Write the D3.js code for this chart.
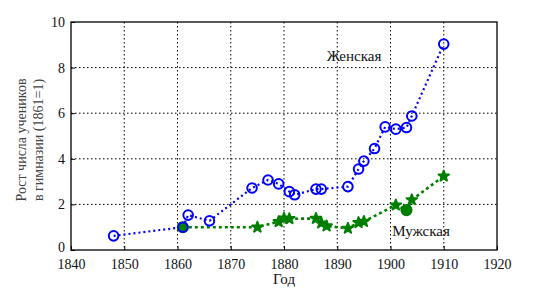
<!DOCTYPE html>
<html><head><meta charset="utf-8">
<script src="https://cdn.jsdelivr.net/npm/d3@7"></script>
<style>body{margin:0;background:#fff}svg{display:block}</style>
</head><body><svg id="c" width="549" height="293"></svg>
<script>
const femaleYears = [1848,1861,1862,1866,1874,1877,1879,1881,1882,1886,1887,1892,1894,1895,1897,1899,1901,1903,1904,1910];
const femaleValues = [0.62,1.0,1.53,1.28,2.72,3.07,2.9,2.56,2.42,2.67,2.67,2.78,3.55,3.9,4.45,5.4,5.3,5.37,5.88,9.03];
const maleYears = [1861,1875,1879,1880,1881,1886,1887,1888,1892,1894,1895,1901,1903,1904,1910];
const maleValues = [1.0,1.0,1.24,1.39,1.37,1.38,1.18,1.05,0.95,1.2,1.25,1.97,1.75,2.2,3.24];
const maleShapes = ["circle","star","star","star","star","star","star","star","star","star","star","star","circle","star","star"];
const xTicks = [1840,1850,1860,1870,1880,1890,1900,1910,1920];
const yTicks = [0,2,4,6,8,10];
const labels = {female:"Женская", male:"Мужская", x:"Год", y1:"Рост числа учеников", y2:"в гимназии (1861=1)"};

const svg = d3.select("#c");
const L=71, R=497, T=22, B=250;
const x = d3.scaleLinear().domain([1840,1920]).range([L,R]);
const y = d3.scaleLinear().domain([0,10]).range([B,T]);
const FONT = "Liberation Serif";

// grid
const g = svg.append("g");
g.selectAll("line.vx").data(xTicks.filter(t=>t>1840&&t<1920)).join("line")
  .attr("x1",d=>x(d)).attr("x2",d=>x(d)).attr("y1",T).attr("y2",B)
  .attr("stroke","#000").attr("stroke-width",1).attr("stroke-dasharray","1.5,2.5");
g.selectAll("line.hy").data(yTicks.filter(t=>t>0&&t<10)).join("line")
  .attr("y1",d=>y(d)).attr("y2",d=>y(d)).attr("x1",L).attr("x2",R)
  .attr("stroke","#000").attr("stroke-width",1).attr("stroke-dasharray","1.5,2.5");

// axes
const xa = svg.append("g").attr("transform",`translate(0,${B})`)
  .call(d3.axisBottom(x).tickValues(xTicks).tickFormat(d3.format("d")).tickSizeInner(-4).tickSizeOuter(0).tickPadding(9));
const ya = svg.append("g").attr("transform",`translate(${L},0)`)
  .call(d3.axisLeft(y).tickValues(yTicks).tickSizeInner(-4).tickSizeOuter(0).tickPadding(6));
[xa,ya].forEach(a=>{a.attr("font-family",FONT).attr("font-size",14);a.select(".domain").remove();a.selectAll("text").attr("fill","#111");a.selectAll(".tick line").attr("stroke","#000");});
ya.selectAll(".tick text").attr("dy",(d)=>d===0?"0.1em":"0.32em");
xa.selectAll(".tick text").attr("dy","0.71em");
svg.append("rect").attr("x",L).attr("y",T).attr("width",R-L).attr("height",B-T)
  .attr("fill","none").attr("stroke","#000").attr("stroke-width",1.3);

// lines
const lineF = d3.line().x((d,i)=>x(femaleYears[i])).y(d=>y(d));
const lineM = d3.line().x((d,i)=>x(maleYears[i])).y(d=>y(d));
svg.append("path").attr("d",lineM(maleValues)).attr("fill","none").attr("stroke","#007f00")
  .attr("stroke-width",2.6).attr("stroke-dasharray","3,3");
svg.append("path").attr("d",lineF(femaleValues)).attr("fill","none").attr("stroke","#0000ff")
  .attr("stroke-width",2.2).attr("stroke-dasharray","2,3");

// markers male
svg.selectAll("path.m").data(maleValues).join("path")
  .attr("transform",(d,i)=>`translate(${x(maleYears[i])},${y(d)})`)
  .attr("d",(d,i)=>maleShapes[i]==="circle"? d3.symbol(d3.symbolCircle,80)() : d3.symbol(d3.symbolStar,34)())
  .attr("fill","#007f00").attr("stroke","#007f00").attr("stroke-width",2).attr("stroke-linejoin","round");
// markers female
svg.selectAll("circle.f").data(femaleValues).join("circle")
  .attr("cx",(d,i)=>x(femaleYears[i])).attr("cy",d=>y(d)).attr("r",4.8)
  .attr("fill","none").attr("stroke","#0000ff").attr("stroke-width",2);

// labels
const txt = (xp,yp,s,t,fill)=>svg.append("text").attr("x",xp).attr("y",yp).attr("text-anchor","middle")
  .attr("font-family",FONT).attr("font-size",s).attr("fill",fill||"#111").text(t);
txt(354,61,15,labels.female);
txt(421,236,15,labels.male);
txt(284,284,15,labels.x);
txt(0,0,14,labels.y1,"#444").attr("transform","translate(26,140) rotate(-90)");
txt(0,0,14,labels.y2,"#444").attr("transform","translate(43,140) rotate(-90)");
</script></body></html>
